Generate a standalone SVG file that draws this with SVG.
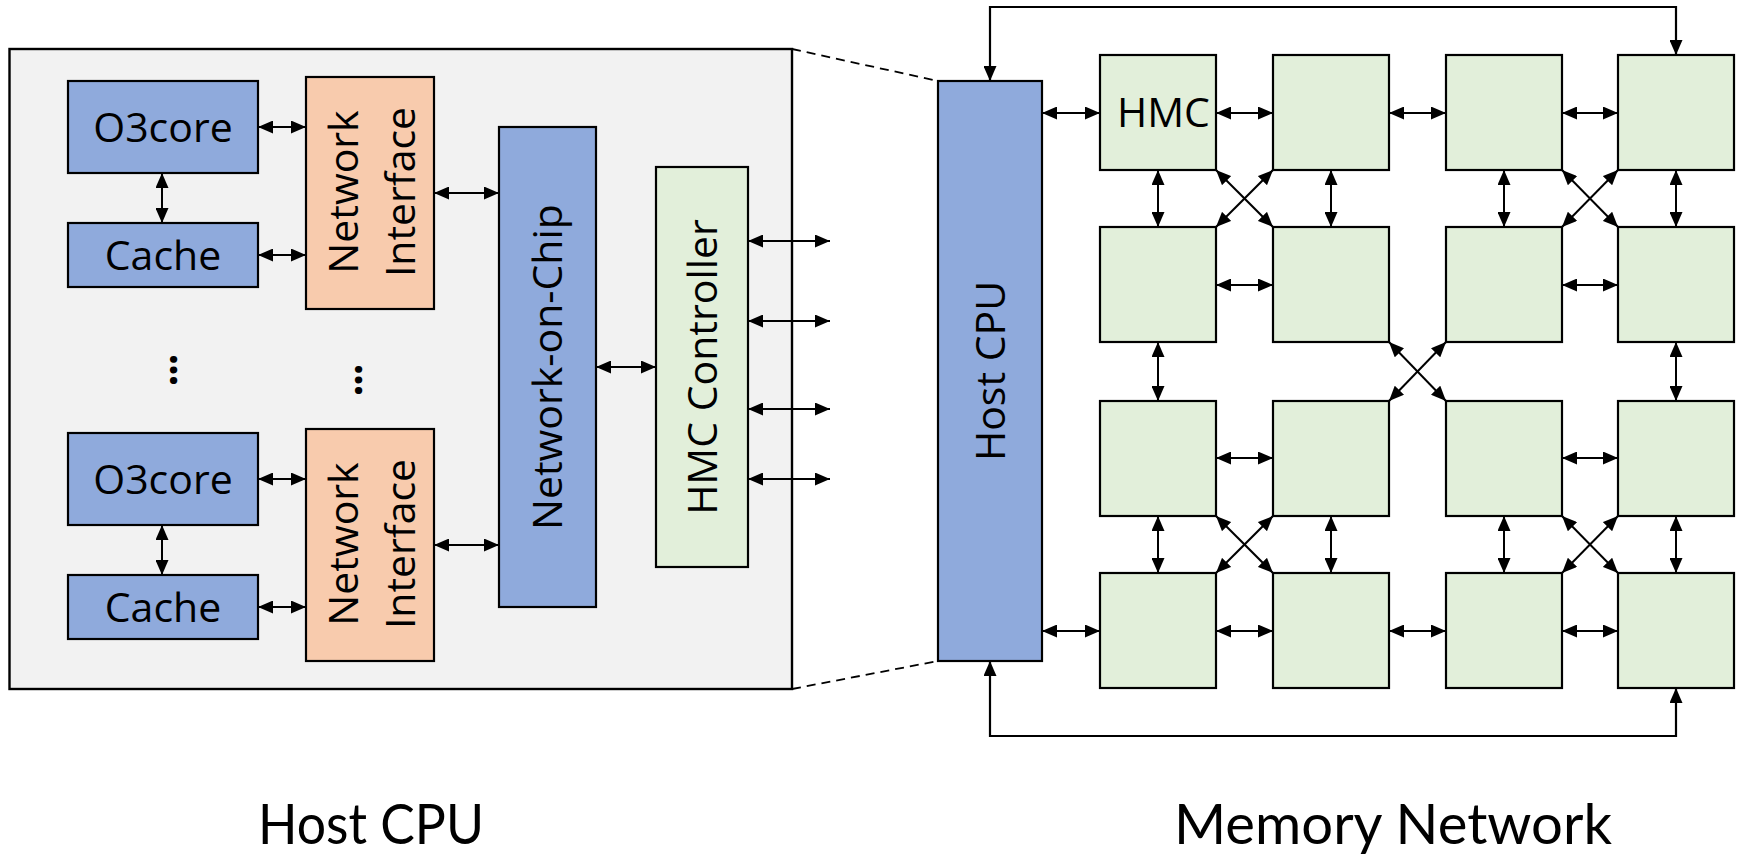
<svg xmlns="http://www.w3.org/2000/svg" width="1743" height="857" viewBox="0 0 1743 857">
  <style>
    .box { stroke: #000; stroke-width: 2.2; }
    .blue { fill: #8FAADC; }
    .peach { fill: #F8CBAD; }
    .green { fill: #E2EFDA; }
    .panel { fill: #F2F2F2; stroke: #000; stroke-width: 2.4; }
    .lbl { font-family: "Open Sans", "Noto Sans", sans-serif; font-size: 41px; fill: #000; }
    .dots { stroke: #000; stroke-width: 2.2; }
    .cap { font-family: "Lato", "Open Sans", sans-serif; font-size: 56px; fill: #000; }
    .link { fill: none; stroke: #000; stroke-width: 2; marker-start: url(#ah); marker-end: url(#ah); }
    .loop { fill: none; stroke: #000; stroke-width: 2.2; }
    .zoomline { fill: none; stroke: #000; stroke-width: 1.8; stroke-dasharray: 9 6; }
  </style>
  <defs>
    <marker id="ah" viewBox="0 0 15 13" refX="15" refY="6.5" markerWidth="15" markerHeight="13" markerUnits="userSpaceOnUse" orient="auto-start-reverse">
      <path d="M0,0 L15,6.5 L0,13 z" fill="#000"/>
    </marker>
  </defs>

  <rect width="1743" height="857" fill="#fff"/>

  <!-- Host CPU detail panel -->
  <g id="host-panel">
    <rect class="panel" x="9.5" y="49" width="782.5" height="640"/>
  </g>

  <!-- zoom lines from panel to the Host CPU block -->
  <g id="zoom-lines">
    <path class="zoomline" d="M792,49 L938,81"/>
    <path class="zoomline" d="M792,689 L938,661"/>
  </g>

  <g id="core1">
    <rect class="box blue" x="68" y="81" width="190" height="92"/>
    <text class="lbl" x="163" y="141.5" text-anchor="middle">O3core</text>
  </g>
  <g id="cache1">
    <rect class="box blue" x="68" y="223" width="190" height="64"/>
    <text class="lbl" x="163" y="269.5" text-anchor="middle">Cache</text>
  </g>
  <g id="ni1">
    <rect class="box peach" x="306" y="77" width="128" height="232"/>
    <text class="lbl" transform="translate(358,192) rotate(-90)" text-anchor="middle">Network</text>
    <text class="lbl" transform="translate(415,192) rotate(-90)" text-anchor="middle">Interface</text>
  </g>

  <g id="ellipsis">
    <text class="lbl dots" transform="translate(171,370) rotate(90)" text-anchor="middle" font-size="44">…</text>
    <text class="lbl dots" transform="translate(356,380) rotate(90)" text-anchor="middle" font-size="44">…</text>
  </g>

  <g id="core2">
    <rect class="box blue" x="68" y="433" width="190" height="92"/>
    <text class="lbl" x="163" y="493.5" text-anchor="middle">O3core</text>
  </g>
  <g id="cache2">
    <rect class="box blue" x="68" y="575" width="190" height="64"/>
    <text class="lbl" x="163" y="621.5" text-anchor="middle">Cache</text>
  </g>
  <g id="ni2">
    <rect class="box peach" x="306" y="429" width="128" height="232"/>
    <text class="lbl" transform="translate(358,544) rotate(-90)" text-anchor="middle">Network</text>
    <text class="lbl" transform="translate(415,544) rotate(-90)" text-anchor="middle">Interface</text>
  </g>

  <g id="noc">
    <rect class="box blue" x="499" y="127" width="97" height="480"/>
    <text class="lbl" transform="translate(562,367) rotate(-90)" text-anchor="middle">Network-on-Chip</text>
  </g>
  <g id="hmc-controller">
    <rect class="box green" x="656" y="167" width="92" height="400"/>
    <text class="lbl" transform="translate(716.5,367) rotate(-90)" text-anchor="middle">HMC Controller</text>
  </g>

  <g id="host-cpu">
    <rect class="box blue" x="938" y="81" width="104" height="580"/>
    <text class="lbl" transform="translate(1004.5,371) rotate(-90)" text-anchor="middle">Host CPU</text>
  </g>

  <!-- HMC cube mesh: 4 columns x 4 rows -->
  <g id="hmc-r0c0"><rect class="box green" x="1100" y="55" width="116" height="115"/>
    <text class="lbl" x="1117" y="126.5">HMC</text></g>
  <g id="hmc-r0c1"><rect class="box green" x="1273" y="55" width="116" height="115"/></g>
  <g id="hmc-r0c2"><rect class="box green" x="1446" y="55" width="116" height="115"/></g>
  <g id="hmc-r0c3"><rect class="box green" x="1618" y="55" width="116" height="115"/></g>
  <g id="hmc-r1c0"><rect class="box green" x="1100" y="227" width="116" height="115"/></g>
  <g id="hmc-r1c1"><rect class="box green" x="1273" y="227" width="116" height="115"/></g>
  <g id="hmc-r1c2"><rect class="box green" x="1446" y="227" width="116" height="115"/></g>
  <g id="hmc-r1c3"><rect class="box green" x="1618" y="227" width="116" height="115"/></g>
  <g id="hmc-r2c0"><rect class="box green" x="1100" y="401" width="116" height="115"/></g>
  <g id="hmc-r2c1"><rect class="box green" x="1273" y="401" width="116" height="115"/></g>
  <g id="hmc-r2c2"><rect class="box green" x="1446" y="401" width="116" height="115"/></g>
  <g id="hmc-r2c3"><rect class="box green" x="1618" y="401" width="116" height="115"/></g>
  <g id="hmc-r3c0"><rect class="box green" x="1100" y="573" width="116" height="115"/></g>
  <g id="hmc-r3c1"><rect class="box green" x="1273" y="573" width="116" height="115"/></g>
  <g id="hmc-r3c2"><rect class="box green" x="1446" y="573" width="116" height="115"/></g>
  <g id="hmc-r3c3"><rect class="box green" x="1618" y="573" width="116" height="115"/></g>

  <g id="connectors">
    <!-- host CPU internals -->
    <path class="link" d="M258,127 H306"/>
    <path class="link" d="M258,255 H306"/>
    <path class="link" d="M162,173 V223"/>
    <path class="link" d="M434,193 H499"/>
    <path class="link" d="M258,479 H306"/>
    <path class="link" d="M258,607 H306"/>
    <path class="link" d="M162,525 V575"/>
    <path class="link" d="M434,545 H499"/>
    <path class="link" d="M596,367 H656"/>
    <path class="link" d="M748,241 H830"/>
    <path class="link" d="M748,321 H830"/>
    <path class="link" d="M748,409 H830"/>
    <path class="link" d="M748,479 H830"/>

    <!-- host CPU to mesh -->
    <path class="link" d="M1042,113 H1100"/>
    <path class="link" d="M1042,631 H1100"/>
    <path class="loop" d="M990,81 V7 H1676 V55" marker-start="url(#ah)" marker-end="url(#ah)"/>
    <path class="loop" d="M990,661 V736 H1676 V688" marker-start="url(#ah)" marker-end="url(#ah)"/>

    <!-- row 0 -->
    <path class="link" d="M1216,113 H1273"/>
    <path class="link" d="M1389,113 H1446"/>
    <path class="link" d="M1562,113 H1618"/>
    <!-- row 0 to row 1 -->
    <path class="link" d="M1158,170 V227"/>
    <path class="link" d="M1331,170 V227"/>
    <path class="link" d="M1504,170 V227"/>
    <path class="link" d="M1676,170 V227"/>
    <path class="link" d="M1216,170 L1273,227"/>
    <path class="link" d="M1273,170 L1216,227"/>
    <path class="link" d="M1562,170 L1618,227"/>
    <path class="link" d="M1618,170 L1562,227"/>
    <!-- row 1 -->
    <path class="link" d="M1216,285 H1273"/>
    <path class="link" d="M1562,285 H1618"/>
    <!-- row 1 to row 2 -->
    <path class="link" d="M1158,342 V401"/>
    <path class="link" d="M1676,342 V401"/>
    <path class="link" d="M1389,342 L1446,401"/>
    <path class="link" d="M1446,342 L1389,401"/>
    <!-- row 2 -->
    <path class="link" d="M1216,458 H1273"/>
    <path class="link" d="M1562,458 H1618"/>
    <!-- row 2 to row 3 -->
    <path class="link" d="M1158,516 V573"/>
    <path class="link" d="M1331,516 V573"/>
    <path class="link" d="M1504,516 V573"/>
    <path class="link" d="M1676,516 V573"/>
    <path class="link" d="M1216,516 L1273,573"/>
    <path class="link" d="M1273,516 L1216,573"/>
    <path class="link" d="M1562,516 L1618,573"/>
    <path class="link" d="M1618,516 L1562,573"/>
    <!-- row 3 -->
    <path class="link" d="M1216,631 H1273"/>
    <path class="link" d="M1389,631 H1446"/>
    <path class="link" d="M1562,631 H1618"/>
  </g>

  <g id="captions">
    <text class="cap" x="371" y="844" text-anchor="middle" textLength="226" lengthAdjust="spacingAndGlyphs">Host CPU</text>
    <text class="cap" x="1393" y="844" text-anchor="middle" textLength="438" lengthAdjust="spacingAndGlyphs">Memory Network</text>
  </g>
</svg>
